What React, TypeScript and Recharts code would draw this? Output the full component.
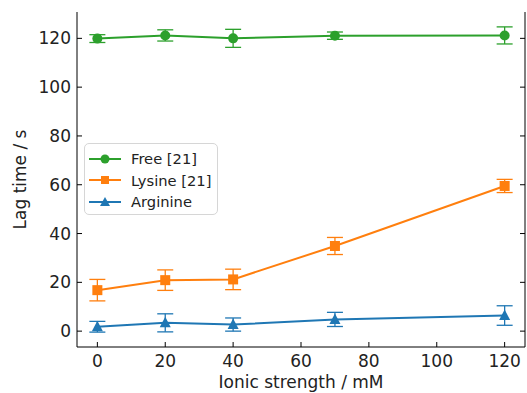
import React from "react";
import {
  ComposedChart,
  Line,
  XAxis,
  YAxis,
  ErrorBar,
} from "recharts";

const ionicStrength = [0, 20, 40, 70, 120];
const freeLag = [119.9, 121.2, 120.0, 121.1, 121.2];
const freeErr = [1.6, 2.3, 3.7, 1.5, 3.5];
const lysineLag = [16.8, 20.9, 21.2, 34.9, 59.5];
const lysineErr = [4.4, 4.2, 4.2, 3.5, 2.7];
const arginineLag = [1.8, 3.4, 2.7, 4.8, 6.4];
const arginineErr = [2.2, 3.7, 2.7, 2.9, 4.0];

const xTicks = [0, 20, 40, 60, 80, 100, 120];
const yTicks = [0, 20, 40, 60, 80, 100, 120];

const GREEN = "#2ca02c";
const ORANGE = "#ff7f0e";
const BLUE = "#1f77b4";
const FONT = "DejaVu Sans";

const data = ionicStrength.map((x, i) => ({
  x,
  free: freeLag[i],
  freeErr: freeErr[i],
  lysine: lysineLag[i],
  lysineErr: lysineErr[i],
  arginine: arginineLag[i],
  arginineErr: arginineErr[i],
}));

const MARGIN = 8; // tickMargin used for every axis
const TICK_LEN = 5;

// inward ticks (matplotlib style)
const BottomTick = (props: any) => {
  const { x, y, payload } = props;
  const axisY = y - MARGIN;
  return (
    <g>
      <line x1={x} x2={x} y1={axisY} y2={axisY - TICK_LEN} stroke="#000" strokeWidth={1} />
      <text x={x} y={axisY + 20} textAnchor="middle" fontSize={17} fontFamily={FONT} fill="#222">
        {payload.value}
      </text>
    </g>
  );
};

const TopTick = (props: any) => {
  const { x, y } = props;
  const axisY = y + MARGIN;
  return <line x1={x} x2={x} y1={axisY} y2={axisY + TICK_LEN} stroke="#000" strokeWidth={1} />;
};

const LeftTick = (props: any) => {
  const { x, y, payload } = props;
  const axisX = x + MARGIN;
  return (
    <g>
      <line x1={axisX} x2={axisX + TICK_LEN} y1={y} y2={y} stroke="#000" strokeWidth={1} />
      <text x={axisX - 6} y={y + 6} textAnchor="end" fontSize={17} fontFamily={FONT} fill="#222">
        {payload.value}
      </text>
    </g>
  );
};

const RightTick = (props: any) => {
  const { x, y } = props;
  const axisX = x - MARGIN;
  return <line x1={axisX} x2={axisX - TICK_LEN} y1={y} y2={y} stroke="#000" strokeWidth={1} />;
};

const CircleDot = (props: any) => {
  const { cx, cy, key } = props;
  return <circle key={key} cx={cx} cy={cy} r={5} fill={GREEN} />;
};

const SquareDot = (props: any) => {
  const { cx, cy, key } = props;
  return <rect key={key} x={cx - 5} y={cy - 5} width={10} height={10} fill={ORANGE} />;
};

const TriangleDot = (props: any) => {
  const { cx, cy, key } = props;
  return (
    <polygon
      key={key}
      points={`${cx},${cy - 6} ${cx - 5.5},${cy + 4.5} ${cx + 5.5},${cy + 4.5}`}
      fill={BLUE}
    />
  );
};

const legendItems = [
  { label: "Free [21]", color: GREEN, shape: "circle" },
  { label: "Lysine [21]", color: ORANGE, shape: "square" },
  { label: "Arginine", color: BLUE, shape: "triangle" },
];

// drawn as an overlay so it takes no room from the plot
const LegendBox = () => (
  <div
    style={{
      position: "absolute",
      left: 84,
      top: 143,
      width: 134,
      height: 72,
      border: "1px solid #d6d6d6",
      borderRadius: 5,
      background: "rgba(255,255,255,0.8)",
      boxSizing: "border-box",
      paddingTop: 4,
    }}
  >
    {legendItems.map((it) => (
      <div key={it.label} style={{ display: "flex", alignItems: "center", height: 21.5 }}>
        <svg width={44} height={14}>
          <line x1={4} x2={36} y1={7} y2={7} stroke={it.color} strokeWidth={2} />
          {it.shape === "circle" && <circle cx={20} cy={7} r={4.5} fill={it.color} />}
          {it.shape === "square" && <rect x={16} y={3} width={8} height={8} fill={it.color} />}
          {it.shape === "triangle" && (
            <polygon points="20,2 15,11 25,11" fill={it.color} />
          )}
        </svg>
        <span style={{ fontFamily: FONT, fontSize: 14.7, color: "#222", marginLeft: 2 }}>
          {it.label}
        </span>
      </div>
    ))}
  </div>
);

export default function App() {
  return (
    <div style={{ position: "fixed", left: 0, top: 0, width: 527, height: 393, background: "#fff" }}>
      <ComposedChart
        width={527}
        height={393}
        data={data}
        margin={{ top: 12, right: 0, bottom: 0, left: 0 }}
      >
        <XAxis
          dataKey="x"
          type="number"
          domain={[-6, 126]}
          ticks={xTicks}
          allowDataOverflow
          height={46}
          tickSize={0}
          tickMargin={MARGIN}
          tickLine={false}
          axisLine={{ stroke: "#000", strokeWidth: 1 }}
          tick={<BottomTick />}
          interval={0}
          label={{
            value: "Ionic strength / mM",
            position: "insideBottom",
            offset: 5,
            style: { fontFamily: FONT, fontSize: 17, fill: "#222" },
          }}
        />
        <XAxis
          xAxisId="top"
          orientation="top"
          dataKey="x"
          type="number"
          domain={[-6, 126]}
          ticks={xTicks}
          allowDataOverflow
          height={0}
          tickSize={0}
          tickMargin={MARGIN}
          tickLine={false}
          axisLine={{ stroke: "#000", strokeWidth: 1 }}
          tick={<TopTick />}
          interval={0}
        />
        <YAxis
          type="number"
          domain={[-6.5, 130.8]}
          ticks={yTicks}
          allowDataOverflow
          width={77}
          tickSize={0}
          tickMargin={MARGIN}
          tickLine={false}
          axisLine={{ stroke: "#000", strokeWidth: 1 }}
          tick={<LeftTick />}
          interval={0}
          label={{
            value: "Lag time / s",
            angle: -90,
            position: "insideLeft",
            offset: 20,
            style: { fontFamily: FONT, fontSize: 17, fill: "#222", textAnchor: "middle" },
          }}
        />
        <YAxis
          yAxisId="right"
          orientation="right"
          type="number"
          domain={[-6.5, 130.8]}
          ticks={yTicks}
          allowDataOverflow
          width={2}
          tickSize={0}
          tickMargin={MARGIN}
          tickLine={false}
          axisLine={{ stroke: "#000", strokeWidth: 1 }}
          tick={<RightTick />}
          interval={0}
        />
        <Line
          dataKey="free"
          stroke={GREEN}
          strokeWidth={2}
          dot={<CircleDot />}
          activeDot={false}
          isAnimationActive={false}
        >
          <ErrorBar dataKey="freeErr" width={8} stroke={GREEN} strokeWidth={1.3} direction="y" />
        </Line>
        <Line
          dataKey="lysine"
          stroke={ORANGE}
          strokeWidth={2}
          dot={<SquareDot />}
          activeDot={false}
          isAnimationActive={false}
        >
          <ErrorBar dataKey="lysineErr" width={8} stroke={ORANGE} strokeWidth={1.3} direction="y" />
        </Line>
        <Line
          dataKey="arginine"
          stroke={BLUE}
          strokeWidth={2}
          dot={<TriangleDot />}
          activeDot={false}
          isAnimationActive={false}
        >
          <ErrorBar dataKey="arginineErr" width={8} stroke={BLUE} strokeWidth={1.3} direction="y" />
        </Line>
      </ComposedChart>
      <LegendBox />
    </div>
  );
}
